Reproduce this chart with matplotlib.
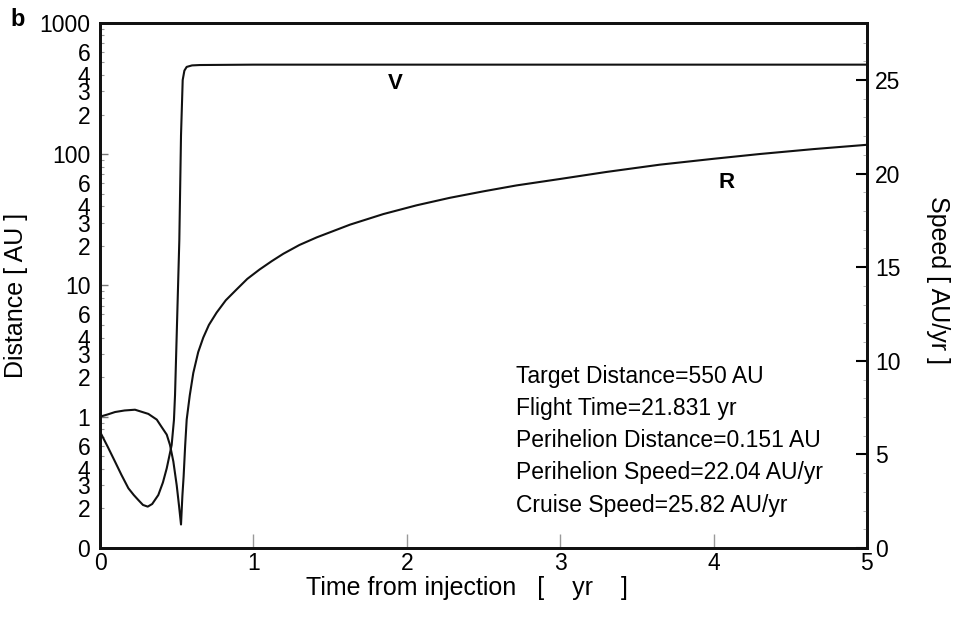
import matplotlib.pyplot as plt
import numpy as np

plt.rcParams['font.family'] = ['Liberation Sans', 'DejaVu Sans']

# heliocentric distance R [AU] vs time [yr]
t_r = [0.0, 0.05, 0.098, 0.16, 0.228, 0.315, 0.37, 0.40, 0.435, 0.456, 0.478,
       0.50, 0.515, 0.528, 0.537, 0.545, 0.555, 0.565, 0.585, 0.608, 0.64,
       0.673, 0.71, 0.76, 0.82, 0.89, 0.96, 1.04, 1.12, 1.195, 1.30, 1.413,
       1.63, 1.847, 2.064, 2.28, 2.50, 2.716, 3.0, 3.3, 3.65, 4.0, 4.3, 4.65,
       5.0]
r_au = [1.0, 1.04, 1.085, 1.115, 1.13, 1.05, 0.95, 0.84, 0.73, 0.61, 0.456,
        0.30, 0.21, 0.151, 0.25, 0.35, 0.6, 0.95, 1.45, 2.15, 3.1,
        4.0, 5.0, 6.2, 7.7, 9.3, 11.2, 13.2, 15.3, 17.4, 20.3, 23.2,
        29.0, 34.9, 40.7, 46.4, 52.0, 57.7, 64.6, 73.0, 83.0, 92.0, 100.0,
        109.0, 117.6]

# speed V [AU/yr] vs time [yr]
t_v = [0.0, 0.05, 0.098, 0.14, 0.185, 0.22, 0.25, 0.28, 0.311, 0.34, 0.38,
       0.41, 0.435, 0.467, 0.482, 0.489, 0.50, 0.517, 0.528, 0.539, 0.55,
       0.565, 0.60, 0.652, 1.0, 5.0]
v_auyr = [6.21, 5.41, 4.61, 3.9, 3.19, 2.83, 2.56, 2.3, 2.21, 2.35, 2.83,
          3.5, 4.26, 5.5, 6.84, 8.17, 11.4, 16.45, 22.04, 25.0, 25.5,
          25.7, 25.78, 25.8, 25.82, 25.82]

info = ["Target Distance=550 AU",
        "Flight Time=21.831 yr",
        "Perihelion Distance=0.151 AU",
        "Perihelion Speed=22.04 AU/yr",
        "Cruise Speed=25.82 AU/yr"]

fig = plt.figure(figsize=(9.59, 6.19), dpi=100)
ax = fig.add_axes([0.1043, 0.1147, 0.7997, 0.8486])
ax2 = ax.twinx()

lc = '#111111'
ax.plot(t_r, r_au, color=lc, lw=1.5)
ax2.plot(t_v, v_auyr, color=lc, lw=1.5)

# left axis: log distance, bottom decade labelled "0"
ax.set_yscale('log')
ax.set_ylim(0.1, 1000)
ax.set_xlim(0, 5)
major = [0.1, 1, 10, 100, 1000]
ax.set_yticks(major, labels=['0', '1', '10', '100', '1000'])
minor = []
minor_lab = []
for dec in [0.1, 1, 10, 100]:
    for k in range(2, 10):
        minor.append(k * dec)
        minor_lab.append(str(k) if k in (2, 3, 4, 6) else '')
ax.set_yticks(minor, labels=minor_lab, minor=True)
ax.set_xticks(range(6))

fs = 16.5
ax.tick_params(axis='y', which='major', direction='in', length=6, width=1,
               labelsize=fs, pad=7, color='#777777')
ax.tick_params(axis='y', which='minor', direction='in', length=3, width=0.8,
               labelsize=fs, pad=7, color='#999999')
ax.tick_params(axis='x', direction='in', length=10, width=1, labelsize=fs,
               pad=3, color='#999999')

# right axis: speed
ax2.set_ylim(0, 28.06)
ax2.set_yticks([0, 5, 10, 15, 20, 25])
ax2.set_yticks(np.arange(0, 28, 1), minor=True)
ax2.tick_params(axis='y', which='major', direction='in', length=8, width=1.5,
                labelsize=fs, pad=6)
ax2.tick_params(axis='y', which='minor', direction='in', length=3, width=0.6,
                color='#aaaaaa')

for a in (ax, ax2):
    for s in a.spines.values():
        s.set_linewidth(2)
        s.set_color('#111111')

fig.text(467 / 959, 1 - 588 / 619, 'Time from injection   [    yr    ]',
         ha='center', va='center', fontsize=18)
fig.text(16 / 959, 1 - 295 / 619, 'Distance [ AU ]', rotation=90,
         ha='center', va='center', fontsize=18)
fig.text(938 / 959, 1 - 280 / 619, 'Speed [ AU/yr ]', rotation=-90,
         ha='center', va='center', fontsize=18)
fig.text(18 / 959, 1 - 19 / 619, 'b', ha='center', va='center',
         fontsize=17, fontweight='bold')

ax2.text(1.923, 24.8, 'V', ha='center', va='center', fontsize=16,
         fontweight='bold')
ax.text(4.087, 60.5, 'R', ha='center', va='center', fontsize=16,
        fontweight='bold')

for i, line in enumerate(info):
    ax.text(0.542, 0.327 - i * 0.0613, line, transform=ax.transAxes,
            ha='left', va='center', fontsize=fs)

fig.savefig('out.png', dpi=100)
